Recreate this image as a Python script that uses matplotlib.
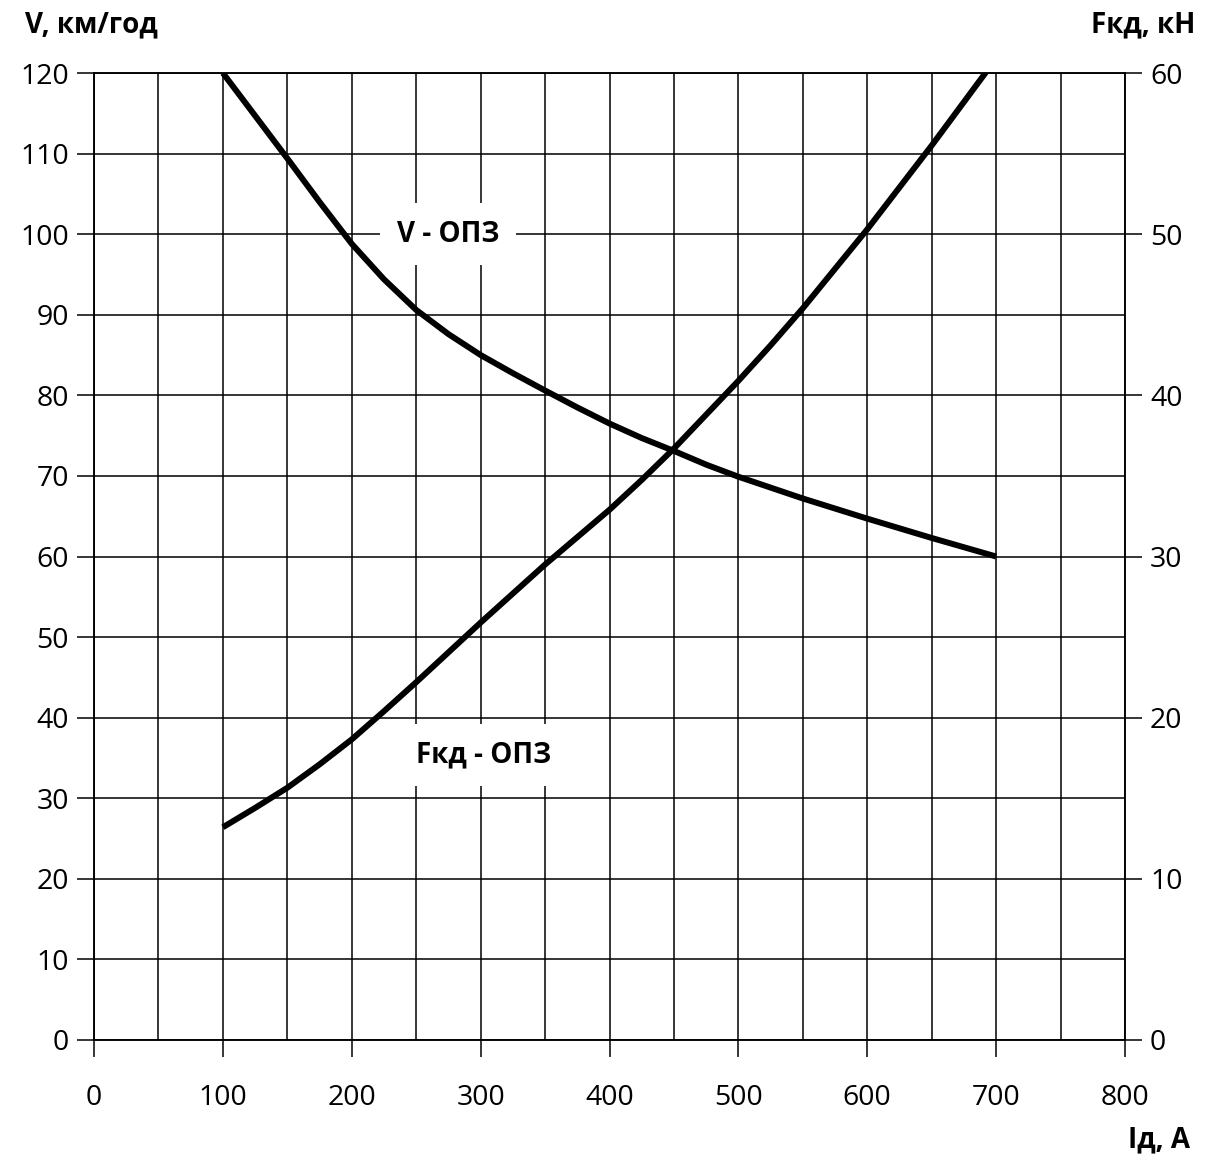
import matplotlib.pyplot as plt
from matplotlib.ticker import MultipleLocator

plt.rcParams['font.family'] = ['Open Sans', 'DejaVu Sans']

# speed curve V(I)
i_v = [100, 125, 150, 175, 200, 225, 250, 275, 300, 325, 350, 375, 400,
       425, 450, 475, 500, 550, 600, 650, 700]
v_vals = [120, 114.7, 109.4, 104.0, 98.8, 94.4, 90.6, 87.6, 85.0, 82.75,
          80.6, 78.5, 76.5, 74.7, 73.1, 71.4, 69.9, 67.2, 64.7, 62.3, 60.0]

# traction force curve F(I)
i_f = [100, 125, 150, 175, 200, 225, 250, 275, 300, 325, 350, 375, 400, 425,
       450, 475, 500, 525, 550, 600, 650, 700]
f_vals = [13.2, 14.4, 15.65, 17.1, 18.65, 20.4, 22.2, 24.05, 25.9, 27.7, 29.5,
          31.2, 32.9, 34.75, 36.7, 38.8, 40.9, 43.1, 45.4, 50.3, 55.5, 60.9]

fig = plt.figure(figsize=(12.06, 11.6), dpi=100)
ax = fig.add_axes([94/1206, 1 - 1040/1160, (1125 - 94)/1206, (1040 - 73)/1160])
ax2 = ax.twinx()

ax.set_xlim(0, 800)
ax.set_ylim(0, 120)
ax2.set_ylim(0, 60)

ax.xaxis.set_major_locator(MultipleLocator(100))
ax.xaxis.set_minor_locator(MultipleLocator(50))
ax.yaxis.set_major_locator(MultipleLocator(10))
ax2.yaxis.set_major_locator(MultipleLocator(10))

ax.grid(True, which='both', axis='x', color='black', lw=1.1)
ax.grid(True, which='major', axis='y', color='black', lw=1.1)
ax.set_axisbelow(True)

for a in (ax, ax2):
    for s in a.spines.values():
        s.set_color('black')
        s.set_linewidth(1.1)

ax.tick_params(axis='x', which='major', length=12, width=1.1, pad=20, labelsize=20.5)
ax.tick_params(axis='x', which='minor', length=0)
ax.tick_params(axis='y', length=12, width=1.1, pad=6, labelsize=20.5)
ax2.tick_params(axis='y', length=12, width=1.1, pad=6, labelsize=20.5)

ax.plot(i_v, v_vals, color='black', lw=4.3, solid_capstyle='butt',
        solid_joinstyle='round', zorder=3)
ax2.plot(i_f, f_vals, color='black', lw=4.3, solid_capstyle='butt',
         solid_joinstyle='round', zorder=3)

box = dict(facecolor='white', edgecolor='none', pad=12)
ax.text(274.6, 100, 'V - ОПЗ', ha='center', va='center', fontsize=20,
        fontweight='bold', bbox=box, zorder=4)
ax.text(302.6, 35.4, 'Fкд - ОПЗ', ha='center', va='center', fontsize=20,
        fontweight='bold', bbox=box, zorder=4)

fig.text(25/1206, 1 - 25/1160, 'V, км/год', ha='left', va='center',
         fontsize=20, fontweight='bold')
fig.text(1195/1206, 1 - 25/1160, 'Fкд, кН', ha='right', va='center',
         fontsize=20, fontweight='bold')
fig.text(1190/1206, 1 - 1140/1160, 'Iд, А', ha='right', va='center',
         fontsize=20, fontweight='bold')

fig.savefig('out.png', dpi=100, facecolor='white')
